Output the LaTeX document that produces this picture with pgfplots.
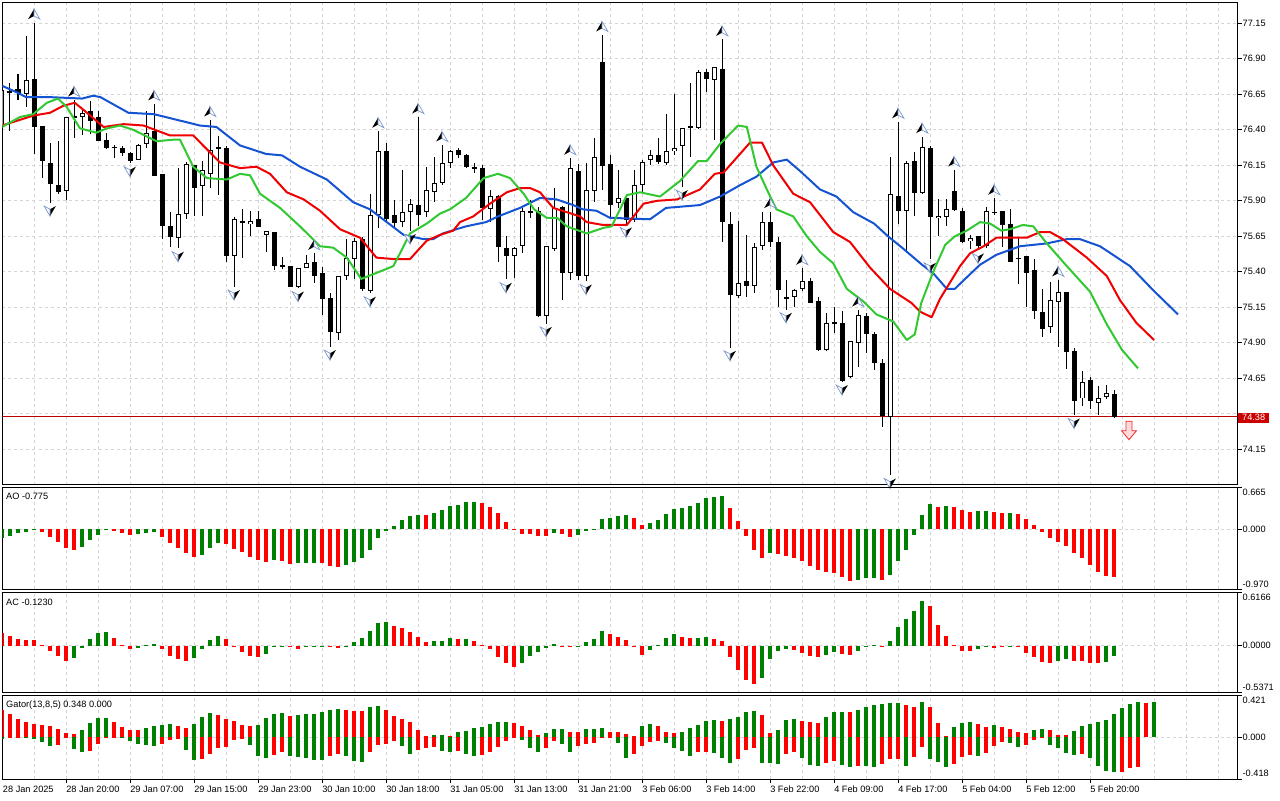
\documentclass[border=0pt]{standalone}
\usepackage{fontspec}
\setmainfont{Liberation Sans}
\usepackage{pgfplots}
\pgfplotsset{compat=1.18}
\usepackage{pgfplotstable}
\definecolor{aogreen}{RGB}{0,128,0}
\definecolor{aored}{RGB}{255,0,0}
\definecolor{jaw}{RGB}{20,84,210}
\definecolor{teeth}{RGB}{240,0,0}
\definecolor{lips}{RGB}{50,200,50}
\definecolor{gridc}{RGB}{212,212,212}
\definecolor{pline}{RGB}{185,0,0}
\definecolor{boxred}{RGB}{205,0,0}
\definecolor{fracb}{RGB}{120,150,200}
\newcommand\lbl{\fontsize{6.9}{8}\selectfont}

\pgfdeclareplotmark{fup}{%
 \pgfpathmoveto{\pgfqpoint{0pt}{10.1pt}}\pgfpathlineto{\pgfqpoint{-4.4pt}{2.6pt}}\pgfpathlineto{\pgfqpoint{0pt}{4.9pt}}\pgfpathclose
 \pgfsetfillcolor{black}\pgfusepath{fill}%
 \pgfpathmoveto{\pgfqpoint{0pt}{10.1pt}}\pgfpathlineto{\pgfqpoint{4.4pt}{2.6pt}}\pgfpathlineto{\pgfqpoint{0pt}{4.9pt}}\pgfpathclose
 \pgfsetfillcolor{white}\pgfsetstrokecolor{fracb}\pgfsetlinewidth{0.5pt}\pgfusepath{fill,stroke}}
\pgfdeclareplotmark{fdn}{%
 \pgfpathmoveto{\pgfqpoint{0pt}{-10.1pt}}\pgfpathlineto{\pgfqpoint{4.4pt}{-2.6pt}}\pgfpathlineto{\pgfqpoint{0pt}{-4.9pt}}\pgfpathclose
 \pgfsetfillcolor{black}\pgfusepath{fill}%
 \pgfpathmoveto{\pgfqpoint{0pt}{-10.1pt}}\pgfpathlineto{\pgfqpoint{-4.4pt}{-2.6pt}}\pgfpathlineto{\pgfqpoint{0pt}{-4.9pt}}\pgfpathclose
 \pgfsetfillcolor{white}\pgfsetstrokecolor{fracb}\pgfsetlinewidth{0.5pt}\pgfusepath{fill,stroke}}

\pgfplotstableread{
k O H L C
0 76.42 76.73 76.36 76.68
1 76.67 76.73 76.39 76.66
2 76.685 76.79 76.61 76.66
3 76.65 77.06 76.56 76.75
4 76.76 77.155 76.23 76.42
5 76.43 76.43 76.06 76.18
6 76.164 76.305 75.887 76.016
7 76.01 76.32 75.95 75.965
8 75.97 76.49 75.906 76.49
9 76.49 76.61 76.34 76.497
10 76.49 76.54 76.36 76.516
11 76.53 76.60 76.37 76.46
12 76.49 76.53 76.32 76.32
13 76.33 76.375 76.265 76.27
14 76.28 76.293 76.20 76.273
15 76.27 76.29 76.22 76.235
16 76.235 76.246 76.164 76.18
17 76.19 76.30 76.19 76.293
18 76.30 76.53 76.27 76.375
19 76.39 76.582 76.077 76.077
20 76.086 76.09 75.63 75.725
21 75.725 75.824 75.577 75.648
22 75.636 76.129 75.566 75.805
23 75.805 76.176 75.77 76.157
24 76.152 76.155 75.793 75.993
25 76.007 76.183 75.796 76.117
26 76.087 76.469 75.993 76.258
27 76.277 76.36 75.94 76.27
28 76.27 76.29 75.47 75.51
29 75.514 75.79 75.296 75.77
30 75.757 75.84 75.495 75.75
31 75.735 75.83 75.65 75.758
32 75.77 75.83 75.718 75.718
33 75.66 75.69 75.54 75.688
34 75.678 75.68 75.41 75.443
35 75.445 75.507 75.418 75.438
36 75.44 75.44 75.29 75.295
37 75.295 75.43 75.285 75.43
38 75.425 75.52 75.425 75.46
39 75.467 75.53 75.324 75.373
40 75.39 75.436 75.096 75.206
41 75.22 75.253 74.873 74.974
42 74.967 75.375 74.92 75.373
43 75.373 75.636 75.343 75.495
44 75.488 75.636 75.347 75.617
45 75.629 75.643 75.267 75.277
46 75.267 75.948 75.249 75.80
47 75.80 76.39 75.71 76.25
48 76.25 76.305 75.753 75.776
49 75.80 75.91 75.718 75.746
50 75.749 76.117 75.718 75.82
51 75.82 75.91 75.69 75.875
52 75.87 76.49 75.723 75.80
53 75.82 76.14 75.784 75.976
54 75.965 76.21 75.894 76.03
55 76.023 76.293 76.01 76.164
56 76.164 76.258 76.129 76.25
57 76.258 76.275 76.20 76.223
58 76.223 76.23 76.129 76.136
59 76.136 76.164 76.098 76.129
60 76.129 76.152 75.765 75.854
61 75.84 75.976 75.753 75.936
62 75.936 75.94 75.472 75.577
63 75.565 75.652 75.347 75.514
64 75.514 75.577 75.354 75.565
65 75.584 75.854 75.537 75.828
66 75.828 75.906 75.777 75.821
67 75.828 75.859 75.084 75.091
68 75.091 75.585 75.037 75.582
69 75.565 75.988 75.549 75.847
70 75.854 75.86 75.20 75.39
71 75.396 76.20 75.343 76.129
72 76.112 76.164 75.343 75.371
73 75.371 76.164 75.335 75.976
74 75.972 76.34 75.894 76.206
75 76.88 77.068 75.976 76.148
76 76.16 76.223 75.79 75.87
77 75.887 76.117 75.847 75.918
78 75.918 75.92 75.737 75.765
79 75.765 76.117 75.753 76.012
80 76.012 76.192 75.965 76.176
81 76.188 76.258 76.152 76.223
82 76.223 76.34 76.16 76.176
83 76.164 76.51 76.152 76.253
84 76.253 76.65 76.223 76.27
85 76.288 76.415 76.00 76.415
86 76.425 76.727 76.206 76.418
87 76.41 76.82 76.41 76.805
88 76.805 76.826 76.669 76.756
89 76.75 76.845 76.33 76.84
90 76.828 77.037 75.612 75.753
91 75.737 75.824 74.868 75.237
92 75.23 75.758 75.22 75.324
93 75.338 75.659 75.22 75.303
94 75.303 75.605 75.253 75.577
95 75.584 75.824 75.558 75.753
96 75.749 75.824 75.577 75.608
97 75.608 75.648 75.155 75.272
98 75.209 75.343 75.136 75.22
99 75.22 75.284 75.155 75.272
100 75.277 75.425 75.267 75.338
101 75.338 75.354 75.178 75.183
102 75.197 75.22 74.845 74.854
103 74.854 75.108 74.845 75.042
104 75.044 75.15 74.967 75.037
105 75.044 75.127 74.627 74.634
106 74.657 74.915 74.65 74.915
107 74.903 75.131 74.732 75.096
108 75.089 75.108 74.826 74.96
109 74.962 74.974 74.709 74.756
110 74.756 74.784 74.305 74.385
111 74.38 76.211 73.969 75.946
112 75.936 76.457 75.735 75.828
113 75.828 76.183 75.53 76.164
114 76.18 76.246 75.79 75.958
115 75.958 76.352 75.946 76.277
116 76.27 76.29 75.488 75.784
117 75.777 75.913 75.655 75.796
118 75.784 75.913 75.725 75.84
119 75.969 76.117 75.83 75.84
120 75.828 75.847 75.605 75.612
121 75.617 75.66 75.559 75.636
122 75.652 75.655 75.554 75.582
123 75.582 75.859 75.566 75.828
124 75.824 75.918 75.80 75.817
125 75.828 75.83 75.577 75.734
126 75.734 75.84 75.47 75.472
127 75.498 75.648 75.319 75.491
128 75.511 75.511 75.155 75.394
129 75.413 75.488 75.066 75.127
130 75.115 75.279 74.939 74.995
131 75.009 75.331 74.974 75.202
132 75.185 75.343 74.868 75.256
133 75.256 75.256 74.714 74.838
134 74.843 74.868 74.392 74.493
135 74.509 74.704 74.455 74.627
136 74.638 74.657 74.432 74.49
137 74.474 74.596 74.392 74.514
138 74.521 74.608 74.509 74.544
139 74.544 74.568 74.373 74.38
}\candles

\pgfplotstableread{
k v c
0 -0.146 1
1 -0.102 1
2 -0.065 1
3 -0.038 1
4 -0.005 1
5 -0.038 0
6 -0.119 0
7 -0.200 0
8 -0.297 0
9 -0.334 0
10 -0.280 1
11 -0.173 1
12 -0.092 1
13 -0.005 1
14 -0.022 0
15 -0.054 0
16 -0.092 0
17 -0.081 1
18 -0.054 1
19 -0.038 1
20 -0.119 0
21 -0.216 0
22 -0.297 0
23 -0.388 0
24 -0.442 0
25 -0.415 1
26 -0.297 1
27 -0.227 1
28 -0.235 0
29 -0.318 0
30 -0.361 0
31 -0.442 0
32 -0.496 0
33 -0.523 0
34 -0.496 1
35 -0.505 0
36 -0.560 0
37 -0.550 1
38 -0.545 1
39 -0.540 1
40 -0.550 0
41 -0.590 0
42 -0.605 0
43 -0.580 1
44 -0.523 1
45 -0.458 1
46 -0.334 1
47 -0.135 1
48 -0.020 1
49 0.054 1
50 0.151 1
51 0.216 1
52 0.232 1
53 0.228 0
54 0.270 1
55 0.313 1
56 0.378 1
57 0.394 1
58 0.437 1
59 0.440 1
60 0.421 0
61 0.367 0
62 0.259 0
63 0.124 0
64 -0.010 0
65 -0.075 0
66 -0.078 0
67 -0.102 0
68 -0.105 0
69 -0.054 1
70 -0.081 0
71 -0.119 0
72 -0.092 1
73 -0.022 1
74 -0.010 1
75 0.162 1
76 0.178 1
77 0.216 1
78 0.232 1
79 0.178 0
80 0.070 0
81 0.097 1
82 0.151 1
83 0.248 1
84 0.324 1
85 0.340 1
86 0.378 1
87 0.432 1
88 0.502 1
89 0.518 1
90 0.540 1
91 0.340 0
92 0.135 0
93 -0.102 0
94 -0.334 0
95 -0.458 0
96 -0.378 1
97 -0.400 0
98 -0.432 0
99 -0.458 0
100 -0.512 0
101 -0.593 0
102 -0.658 0
103 -0.685 0
104 -0.701 0
105 -0.766 0
106 -0.831 0
107 -0.826 1
108 -0.793 1
109 -0.790 1
110 -0.820 0
111 -0.739 1
112 -0.507 1
113 -0.334 1
114 -0.092 1
115 0.232 1
116 0.410 1
117 0.367 0
118 0.378 1
119 0.365 0
120 0.313 0
121 0.286 0
122 0.290 1
123 0.292 1
124 0.288 0
125 0.270 0
126 0.272 1
127 0.248 0
128 0.167 0
129 0.070 0
130 -0.038 0
131 -0.135 0
132 -0.200 0
133 -0.264 0
134 -0.378 0
135 -0.458 0
136 -0.577 0
137 -0.685 0
138 -0.750 0
139 -0.775 0
}\aotab

\pgfplotstableread{
k v c
0 0.143 0
1 0.112 0
2 0.077 0
3 0.066 0
4 0.064 0
5 0.012 0
6 -0.058 0
7 -0.116 0
8 -0.174 0
9 -0.139 1
10 -0.031 1
11 0.077 1
12 0.143 1
13 0.158 1
14 0.085 0
15 0.012 0
16 -0.035 0
17 -0.031 1
18 0.008 1
19 0.019 1
20 -0.043 0
21 -0.116 0
22 -0.155 0
23 -0.174 0
24 -0.139 1
25 -0.043 1
26 0.066 1
27 0.112 1
28 0.077 0
29 -0.019 0
30 -0.070 0
31 -0.116 0
32 -0.128 0
33 -0.093 1
34 -0.012 1
35 -0.004 1
36 -0.019 0
37 -0.043 0
38 -0.012 1
39 -0.004 1
40 0.002 1
41 -0.019 0
42 -0.031 0
43 0.002 1
44 0.043 1
45 0.085 1
46 0.170 1
47 0.259 1
48 0.274 1
49 0.228 0
50 0.201 0
51 0.155 0
52 0.104 0
53 0.039 0
54 0.054 1
55 0.056 1
56 0.093 1
57 0.077 0
58 0.079 1
59 0.054 0
60 0.008 0
61 -0.043 0
62 -0.128 0
63 -0.197 0
64 -0.244 0
65 -0.197 1
66 -0.116 1
67 -0.070 1
68 -0.031 1
69 0.019 1
70 -0.004 0
71 -0.019 0
72 0.002 1
73 0.039 1
74 0.074 1
75 0.170 1
76 0.135 0
77 0.104 0
78 0.066 0
79 -0.019 0
80 -0.108 0
81 -0.050 1
82 0.008 1
83 0.093 1
84 0.135 1
85 0.104 0
86 0.093 0
87 0.095 1
88 0.104 1
89 0.077 0
90 0.054 0
91 -0.128 0
92 -0.282 0
93 -0.398 0
94 -0.445 0
95 -0.371 1
96 -0.155 1
97 -0.062 1
98 -0.039 1
99 -0.045 0
100 -0.089 0
101 -0.120 0
102 -0.128 0
103 -0.108 1
104 -0.077 1
105 -0.097 0
106 -0.108 0
107 -0.058 1
108 0.002 1
109 0.008 1
110 -0.004 0
111 0.054 1
112 0.220 1
113 0.309 1
114 0.402 1
115 0.518 1
116 0.460 0
117 0.240 0
118 0.112 0
119 0.008 0
120 -0.058 0
121 -0.060 0
122 -0.043 1
123 -0.019 1
124 -0.022 0
125 -0.012 0
126 -0.004 1
127 -0.019 0
128 -0.081 0
129 -0.135 0
130 -0.186 0
131 -0.197 0
132 -0.178 1
133 -0.155 1
134 -0.178 0
135 -0.180 0
136 -0.197 0
137 -0.205 0
138 -0.186 1
139 -0.123 1
}\actab

\pgfplotstableread{
k up uc lo lc
0 0.272 0 -0.020 1
1 0.232 0 -0.012 0
2 0.182 0 -0.005 0
3 0.148 0 -0.010 1
4 0.131 0 -0.020 1
5 0.121 0 -0.047 1
6 0.111 0 -0.087 1
7 0.081 0 -0.081 0
8 0.037 0 -0.010 0
9 0.030 0 -0.118 1
10 0.071 1 -0.148 1
11 0.138 1 -0.138 0
12 0.188 1 -0.071 0
13 0.190 1 -0.010 0
14 0.148 0 -0.005 0
15 0.097 0 -0.008 1
16 0.071 0 -0.040 1
17 0.070 0 -0.070 1
18 0.087 1 -0.081 1
19 0.111 1 -0.091 1
20 0.121 1 -0.071 0
21 0.128 1 -0.030 0
22 0.114 0 -0.024 0
23 0.087 0 -0.131 1
24 0.131 1 -0.232 1
25 0.198 1 -0.222 0
26 0.239 1 -0.171 0
27 0.222 0 -0.107 0
28 0.182 0 -0.097 0
29 0.161 0 -0.030 0
30 0.121 0 -0.024 0
31 0.111 0 -0.081 1
32 0.121 1 -0.192 1
33 0.188 1 -0.208 1
34 0.229 1 -0.182 0
35 0.239 1 -0.155 0
36 0.212 0 -0.188 1
37 0.222 1 -0.198 1
38 0.229 1 -0.215 1
39 0.232 1 -0.232 1
40 0.255 1 -0.235 1
41 0.272 1 -0.192 0
42 0.279 1 -0.171 0
43 0.272 0 -0.192 1
44 0.262 0 -0.242 1
45 0.260 0 -0.249 1
46 0.299 1 -0.155 0
47 0.313 1 -0.081 0
48 0.272 0 -0.071 0
49 0.215 0 -0.040 0
50 0.182 0 -0.087 1
51 0.155 0 -0.171 1
52 0.071 0 -0.131 0
53 0.013 0 -0.107 0
54 0.020 1 -0.097 0
55 0.021 1 -0.138 1
56 0.010 0 -0.148 1
57 0.047 1 -0.138 0
58 0.064 1 -0.171 1
59 0.094 1 -0.192 1
60 0.104 1 -0.182 0
61 0.131 1 -0.148 0
62 0.148 1 -0.097 0
63 0.150 1 -0.037 0
64 0.138 0 -0.013 0
65 0.111 0 -0.030 1
66 0.071 0 -0.107 1
67 0.020 0 -0.148 1
68 0.044 1 -0.114 0
69 0.081 1 -0.040 0
70 0.083 1 -0.074 1
71 0.054 0 -0.148 1
72 0.052 0 -0.087 0
73 0.081 1 -0.074 0
74 0.083 1 -0.064 0
75 0.094 1 -0.013 0
76 0.054 0 -0.010 0
77 0.052 0 -0.057 1
78 0.027 0 -0.208 1
79 0.013 0 -0.171 0
80 0.111 1 -0.087 0
81 0.131 1 -0.047 0
82 0.111 0 -0.037 0
83 0.054 0 -0.064 1
84 0.037 0 -0.107 1
85 0.054 1 -0.138 1
86 0.094 1 -0.188 1
87 0.121 1 -0.155 0
88 0.161 1 -0.148 0
89 0.171 1 -0.158 1
90 0.165 0 -0.215 1
91 0.182 1 -0.259 1
92 0.205 1 -0.225 0
93 0.255 1 -0.131 0
94 0.262 1 -0.107 0
95 0.222 0 -0.259 1
96 0.044 0 -0.262 1
97 0.071 1 -0.272 1
98 0.171 1 -0.171 0
99 0.182 1 -0.148 0
100 0.161 0 -0.208 1
101 0.148 0 -0.282 1
102 0.146 0 -0.289 1
103 0.198 1 -0.259 0
104 0.249 1 -0.242 0
105 0.250 1 -0.282 1
106 0.249 0 -0.306 1
107 0.272 1 -0.289 0
108 0.306 1 -0.292 1
109 0.319 1 -0.299 1
110 0.333 1 -0.272 0
111 0.339 1 -0.225 0
112 0.340 1 -0.222 0
113 0.319 0 -0.289 1
114 0.306 0 -0.205 0
115 0.350 1 -0.097 0
116 0.306 0 -0.225 1
117 0.138 0 -0.249 1
118 0.007 0 -0.306 1
119 0.097 1 -0.272 0
120 0.138 1 -0.198 0
121 0.148 1 -0.182 0
122 0.128 0 -0.188 1
123 0.104 0 -0.158 0
124 0.118 1 -0.087 0
125 0.104 0 -0.047 0
126 0.077 0 -0.057 1
127 0.047 0 -0.097 1
128 0.037 0 -0.081 0
129 0.071 1 -0.030 0
130 0.077 1 -0.010 0
131 0.071 0 -0.081 1
132 0.017 0 -0.114 1
133 0.016 0 -0.158 1
134 0.061 1 -0.182 1
135 0.111 1 -0.171 0
136 0.131 1 -0.208 1
137 0.148 1 -0.289 1
138 0.171 1 -0.339 1
139 0.229 1 -0.350 1
140 0.289 1 -0.349 0
141 0.329 1 -0.316 0
142 0.353 1 -0.306 0
143 0.339 0 0 0
144 0.353 1 0 0
}\gatortab

\pgfplotsset{
  mtbase/.style={
    anchor=south west, scale only axis, width=926.4pt,
    xmin=0.0625, xmax=154.46,
    clip mode=individual,
    axis line style={line width=0.75pt, black},
    grid style={gridc, line width=0.75pt, dash pattern=on 2.25pt off 2.25pt},
    xtick={0,4,...,152}, xticklabels={}, xtick style={draw=none}, xmajorgrids,
    ytick pos=right, yticklabels={}, ytick style={black, line width=0.75pt},
    tick align=outside, major tick length=3pt, ymajorgrids,
    tick label style={text opacity=0, opacity=0},
  },
  histg/.style={ycomb, draw=aogreen, line width=3pt, line cap=butt},
  histr/.style={ycomb, draw=aored, line width=3pt, line cap=butt},
}
\tikzset{
  rl/.style={anchor=west, inner sep=0pt, font=\lbl, xshift=3.5pt},
  xl/.style={anchor=base west, inner sep=0pt, font=\lbl, yshift=-9.975pt},
  tl/.style={anchor=base west, inner sep=0pt, font=\lbl, xshift=2.6pt, yshift=-9.5pt},
}

\begin{document}
\begin{tikzpicture}
\useasboundingbox (0,0) rectangle (960pt,600pt);
\fill[white] (0,0) rectangle (960pt,600pt);

% ---------------- main price window
\begin{axis}[mtbase, at={(1.875pt,236.475pt)}, height=361.5pt,
  ymin=73.901, ymax=77.295,
  ytick={74.15,74.40,74.65,74.90,75.15,75.40,75.65,75.90,76.15,76.40,76.65,76.90,77.15}]
\addplot[pline, line width=0.75pt] coordinates {(0.0625,74.38) (154.46,74.38)};
% wicks
\addplot[draw=none, error bars/.cd, y dir=both, y explicit, error mark=none,
  error bar style={draw=black, line width=0.75pt, solid, line cap=butt}]
  table[x=k, y expr={(\thisrow{H}+\thisrow{L})/2}, y error expr={(\thisrow{H}-\thisrow{L})/2}] {\candles};
% bodies
\addplot[draw=none, error bars/.cd, y dir=both, y explicit, error mark=none,
  error bar style={draw=black, line width=3.75pt, solid, line cap=butt}]
  table[x=k, y expr={(\thisrow{O}+\thisrow{C})/2}, y error expr={max(abs(\thisrow{C}-\thisrow{O})/2,0.0035)}] {\candles};
% bull interiors
\addplot[draw=none, error bars/.cd, y dir=both, y explicit, error mark=none,
  error bar style={draw=white, line width=2.25pt, solid, line cap=butt}]
  table[x=k, y expr={ifthenelse(\thisrow{C}>\thisrow{O},(\thisrow{O}+\thisrow{C})/2,80)}, y error expr={max((\thisrow{C}-\thisrow{O})/2-0.007,0)}] {\candles};
% alligator
\addplot[jaw, line width=1.5pt, line join=round] coordinates {(0,76.71) (2,76.66) (3,76.63) (6,76.63) (10,76.62) (11.4,76.64) (12.3,76.63) (15.8,76.52) (19,76.51) (24.75,76.43) (26.8,76.42) (29.75,76.29) (33,76.23) (35,76.22) (37.25,76.14) (40.6,76.05) (43.9,75.89) (46,75.84) (48.1,75.75) (50.2,75.66) (52.7,75.63) (53.9,75.63) (55.1,75.67) (56.8,75.70) (58,75.72) (60.5,75.75) (62,75.79) (64.75,75.85) (67.25,75.92) (69.3,75.91) (71.4,75.87) (72.6,75.84) (74.3,75.83) (76,75.78) (81,75.77) (83,75.85) (87.25,75.87) (89.75,75.93) (92.25,76.01) (94.3,76.07) (96.4,76.17) (98.1,76.19) (99.75,76.11) (102.25,75.98) (104.3,75.93) (106.4,75.82) (109,75.74) (110.75,75.65) (112.5,75.57) (115,75.45) (116.4,75.39) (118.1,75.28) (119.1,75.28) (120.2,75.34) (122.25,75.45) (124.3,75.52) (127.25,75.58) (130.6,75.60) (133.1,75.63) (134.75,75.63) (137.25,75.58) (141,75.44) (143.9,75.27) (147,75.10)};
\addplot[teeth, line width=1.5pt, line join=round] coordinates {(0,76.43) (3.9,76.50) (6,76.52) (7.7,76.57) (9.1,76.59) (10.2,76.54) (12.7,76.42) (15.2,76.44) (17.7,76.43) (21,76.36) (23.9,76.36) (27.25,76.17) (29.75,76.13) (31.8,76.14) (33.5,76.09) (35.6,75.96) (37.7,75.91) (39.75,75.83) (42.25,75.70) (44.75,75.64) (46.8,75.50) (48.9,75.49) (51,75.49) (53.1,75.62) (54.75,75.66) (56.4,75.69) (57.25,75.75) (58.9,75.79) (61,75.88) (63.1,75.96) (64.75,75.99) (66,75.99) (67.25,75.96) (68.9,75.85) (70.6,75.82) (72.25,75.79) (73.1,75.75) (75.1,75.73) (78.1,75.73) (80.2,75.88) (81.9,75.90) (84.4,75.91) (87.25,75.98) (89.1,76.09) (90.2,76.10) (92.25,76.23) (93.5,76.31) (95,76.31) (96.4,76.15) (98.9,75.95) (101,75.89) (103.9,75.68) (106,75.61) (108.5,75.43) (111,75.28) (113.7,75.18) (114.75,75.12) (116.2,75.08) (117.25,75.21) (119.75,75.44) (121,75.53) (122.7,75.58) (124.3,75.64) (128.1,75.64) (129.75,75.68) (131,75.68) (132.6,75.63) (135.6,75.50) (138.1,75.37) (139.75,75.20) (141.8,75.04) (144,74.92)};
\addplot[lips, line width=1.5pt, line join=round] coordinates {(0,76.42) (2.25,76.49) (3.9,76.51) (5.6,76.59) (7,76.62) (8.1,76.56) (9.75,76.41) (11.8,76.38) (13.1,76.41) (14.75,76.43) (16.4,76.40) (19.3,76.32) (21.4,76.33) (22.25,76.33) (23.9,76.14) (25.6,76.06) (28.1,76.05) (29.75,76.09) (31,76.08) (32.25,75.95) (34.75,75.85) (37.25,75.72) (39.75,75.58) (41.4,75.57) (43.1,75.50) (44.9,75.35) (47.6,75.41) (48.9,75.44) (49.75,75.53) (51,75.67) (53.1,75.74) (54.75,75.81) (56,75.84) (58,75.92) (60.2,76.06) (62,76.09) (63.5,76.06) (65.2,75.95) (66.5,75.84) (68.1,75.78) (69.4,75.78) (70.6,75.72) (73.1,75.67) (75.2,75.71) (76.2,75.72) (77.25,75.84) (78.1,75.94) (79.75,75.96) (82.25,75.93) (84.75,76.04) (87,76.18) (88.1,76.18) (89.75,76.30) (92,76.43) (93.1,76.42) (94.3,76.14) (95.6,75.98) (96.8,75.84) (98.9,75.79) (100.6,75.65) (102.25,75.54) (103.9,75.46) (105.6,75.28) (107.7,75.19) (109.3,75.10) (111.4,75.05) (113.1,74.92) (114.1,74.96) (114.9,75.18) (116.4,75.40) (117.9,75.59) (119.1,75.65) (120.6,75.69) (122.25,75.75) (123.5,75.74) (124.9,75.69) (126,75.70) (127.6,75.73) (128.9,75.72) (130.6,75.60) (133.1,75.44) (136,75.26) (138.1,75.03) (140,74.85) (142,74.72)};
% fractals
\addplot[only marks, mark=fup] coordinates {(4,77.155) (9,76.61) (19,76.582) (26,76.469) (39,75.53) (47,76.39) (52,76.49) (55,76.293) (71,76.20) (75,77.068) (90,77.037) (96,75.824) (100,75.425) (107,75.131) (112,76.457) (115,76.352) (119,76.117) (124,75.918) (132,75.343)};
\addplot[only marks, mark=fdn] coordinates {(0,76.36) (6,75.887) (16,76.164) (22,75.566) (29,75.296) (37,75.285) (41,74.873) (46,75.249) (51,75.69) (63,75.347) (68,75.037) (73,75.335) (78,75.737) (85,76.0) (91,74.868) (98,75.136) (105,74.627) (111,73.969) (116,75.488) (122,75.554) (134,74.392)};
% price labels
\node[rl] at (axis cs:154.46,77.15) {77.15};
\node[rl] at (axis cs:154.46,76.90) {76.90};
\node[rl] at (axis cs:154.46,76.65) {76.65};
\node[rl] at (axis cs:154.46,76.40) {76.40};
\node[rl] at (axis cs:154.46,76.15) {76.15};
\node[rl] at (axis cs:154.46,75.90) {75.90};
\node[rl] at (axis cs:154.46,75.65) {75.65};
\node[rl] at (axis cs:154.46,75.40) {75.40};
\node[rl] at (axis cs:154.46,75.15) {75.15};
\node[rl] at (axis cs:154.46,74.90) {74.90};
\node[rl] at (axis cs:154.46,74.65) {74.65};
\node[rl] at (axis cs:154.46,74.15) {74.15};
\end{axis}

% ---------------- AO
\begin{axis}[mtbase, at={(1.875pt,158.025pt)}, height=76.5pt,
  ymin=-0.971, ymax=0.68, ytick={-0.971,0,0.68}]
\addplot[histg] table[x=k, y expr={ifthenelse(\thisrow{c}>0.5,\thisrow{v},0)}] {\aotab};
\addplot[histr] table[x=k, y expr={ifthenelse(\thisrow{c}>0.5,0,\thisrow{v})}] {\aotab};
\node[tl] at (rel axis cs:0,1) {AO -0.775};
\node[rl, yshift=-3.9pt] at (rel axis cs:1,1) {0.665};
\node[rl] at (axis cs:154.46,0) {0.000};
\node[rl, yshift=3.45pt] at (rel axis cs:1,0) {-0.970};
\end{axis}

% ---------------- AC
\begin{axis}[mtbase, at={(1.875pt,80.475pt)}, height=75pt,
  ymin=-0.545, ymax=0.615, ytick={-0.545,0,0.615}]
\addplot[histg] table[x=k, y expr={ifthenelse(\thisrow{c}>0.5,\thisrow{v},0)}] {\actab};
\addplot[histr] table[x=k, y expr={ifthenelse(\thisrow{c}>0.5,0,\thisrow{v})}] {\actab};
\node[tl] at (rel axis cs:0,1) {AC -0.1230};
\node[rl, yshift=-3.45pt] at (rel axis cs:1,1) {0.6166};
\node[rl] at (axis cs:154.46,0) {0.0000};
\node[rl, yshift=4.05pt] at (rel axis cs:1,0) {-0.5371};
\end{axis}

% ---------------- Gator
\begin{axis}[mtbase, at={(1.875pt,15.75pt)}, height=62.775pt,
  ymin=-0.423, ymax=0.42, ytick={-0.423,0,0.42},
  xtick={0,8,...,136}, minor xtick={4,12,...,132,140,144,148,152}, xminorgrids,
  xtick pos=bottom, xtick style={draw=black, line width=0.75pt}, minor tick length=0pt]
\addplot[histg] table[x=k, y expr={ifthenelse(\thisrow{uc}>0.5,\thisrow{up},0)}] {\gatortab};
\addplot[histr] table[x=k, y expr={ifthenelse(\thisrow{uc}>0.5,0,\thisrow{up})}] {\gatortab};
\addplot[histg] table[x=k, y expr={ifthenelse(\thisrow{lc}>0.5,\thisrow{lo},0)}] {\gatortab};
\addplot[histr] table[x=k, y expr={ifthenelse(\thisrow{lc}>0.5,0,\thisrow{lo})}] {\gatortab};
\node[tl] at (rel axis cs:0,1) {Gator(13,8,5) 0.348 0.000};
\node[rl, yshift=-3.75pt] at (rel axis cs:1,1) {0.421};
\node[rl] at (axis cs:154.46,0) {0.000};
\node[rl, yshift=4.3pt] at (rel axis cs:1,0) {-0.418};
\node[xl] at (axis cs:0.09,-0.423) {28 Jan 2025};
\node[xl] at (axis cs:8,-0.423) {28 Jan 20:00};
\node[xl] at (axis cs:16,-0.423) {29 Jan 07:00};
\node[xl] at (axis cs:24,-0.423) {29 Jan 15:00};
\node[xl] at (axis cs:32,-0.423) {29 Jan 23:00};
\node[xl] at (axis cs:40,-0.423) {30 Jan 10:00};
\node[xl] at (axis cs:48,-0.423) {30 Jan 18:00};
\node[xl] at (axis cs:56,-0.423) {31 Jan 05:00};
\node[xl] at (axis cs:64,-0.423) {31 Jan 13:00};
\node[xl] at (axis cs:72,-0.423) {31 Jan 21:00};
\node[xl] at (axis cs:80,-0.423) {3 Feb 06:00};
\node[xl] at (axis cs:88,-0.423) {3 Feb 14:00};
\node[xl] at (axis cs:96,-0.423) {3 Feb 22:00};
\node[xl] at (axis cs:104,-0.423) {4 Feb 09:00};
\node[xl] at (axis cs:112,-0.423) {4 Feb 17:00};
\node[xl] at (axis cs:120,-0.423) {5 Feb 04:00};
\node[xl] at (axis cs:128,-0.423) {5 Feb 12:00};
\node[xl] at (axis cs:136,-0.423) {5 Feb 20:00};
\end{axis}

% current price box and sell arrow
\node[fill=boxred, text=white, minimum width=23pt, minimum height=7.5pt, inner sep=0pt, font=\lbl] at (940.24pt,286.725pt) {74.38};
\begin{scope}[shift={(846.75pt,286.725pt)}]
\draw[draw={rgb,255:red,235;green,40;blue,40}, fill=red!14, line width=0.6pt, line join=miter]
  (-2.25pt,-2.6pt) -- (2.25pt,-2.6pt) -- (2.25pt,-9.75pt) -- (5.6pt,-9.75pt) -- (0pt,-16.5pt) -- (-5.6pt,-9.75pt) -- (-2.25pt,-9.75pt) -- cycle;
\end{scope}
\end{tikzpicture}
\end{document}
